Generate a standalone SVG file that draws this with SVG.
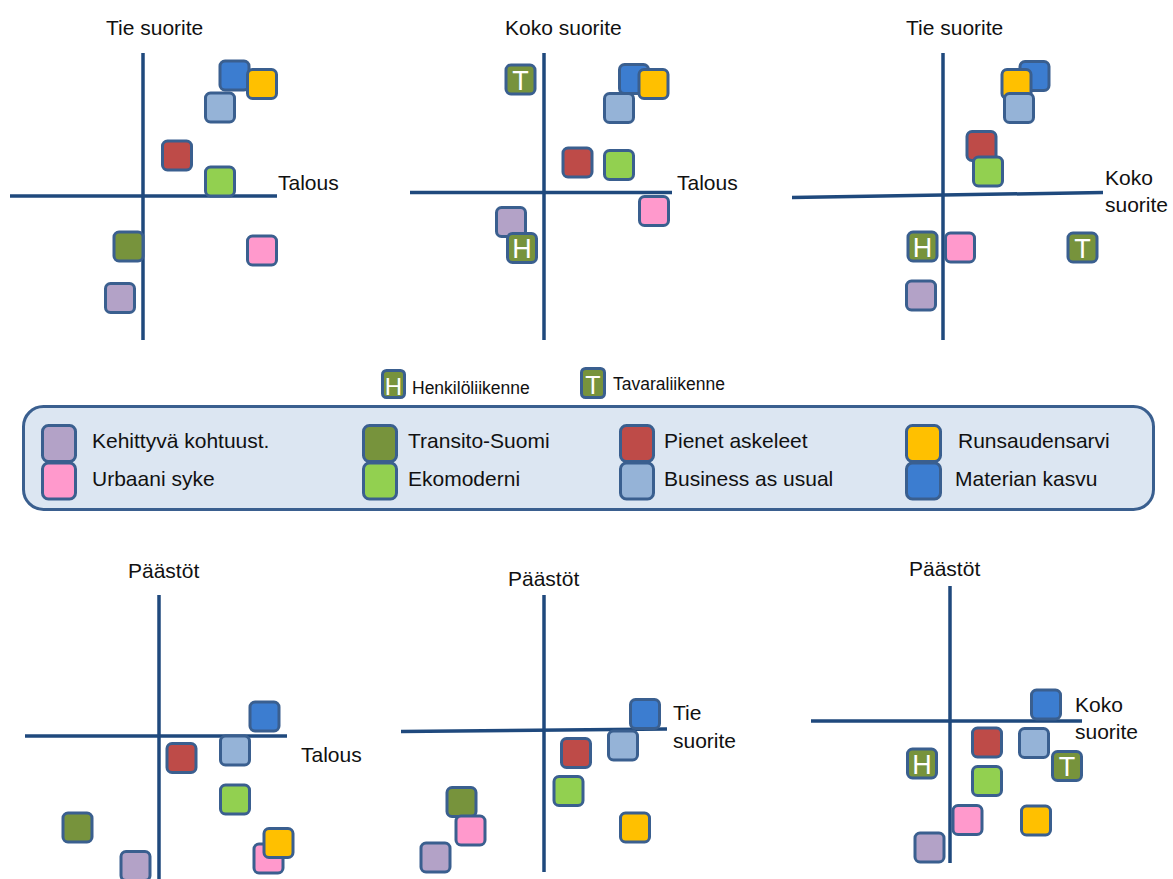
<svg xmlns="http://www.w3.org/2000/svg" width="1173" height="879" viewBox="0 0 1173 879">
  <style>
    text { font-family: "Liberation Sans", Arial, sans-serif; fill: #111; }
    .title { font-size: 21px; }
    .lbl { font-size: 21px; }
    .leg { font-size: 21px; }
    .small { font-size: 17.5px; }
    .axis { stroke: #1F497D; stroke-width: 3.5; fill: none; }
    .m { stroke: #3A5F8F; stroke-width: 3; }
    .letter { fill: #fff; font-size: 27px; text-anchor: middle; }
    .pur { fill: #B3A2C7; }
    .pnk { fill: #FF99CC; }
    .olv { fill: #77933C; }
    .grn { fill: #92D050; }
    .red { fill: #BE4B48; }
    .lbl-b { fill: #95B3D7; }
    .yel { fill: #FFC000; }
    .blu { fill: #3C7DD0; }
  </style>
  <defs>
    <rect id="sq" width="29" height="29" rx="5" ry="5"/>
  </defs>

  <!-- Chart 1: Tie suorite vs Talous -->
  <g id="chart1">
    <line class="axis" x1="143" y1="53" x2="143" y2="340"/>
    <line class="axis" x1="10" y1="196" x2="277" y2="196"/>
    <text class="title" x="106" y="35">Tie suorite</text>
    <text class="lbl" x="278" y="190">Talous</text>
    <g id="c1-materian"><use href="#sq" class="m blu" x="220" y="61"/></g>
    <g id="c1-runsaus"><use href="#sq" class="m yel" x="247.5" y="69.5"/></g>
    <g id="c1-business"><use href="#sq" class="m lbl-b" x="205.5" y="93"/></g>
    <g id="c1-pienet"><use href="#sq" class="m red" x="162.5" y="141"/></g>
    <g id="c1-eko"><use href="#sq" class="m grn" x="205.5" y="167"/></g>
    <g id="c1-transito"><use href="#sq" class="m olv" x="114" y="232"/></g>
    <g id="c1-urbaani"><use href="#sq" class="m pnk" x="247.5" y="236"/></g>
    <g id="c1-kehittyva"><use href="#sq" class="m pur" x="105.5" y="283.5"/></g>
  </g>

  <!-- Chart 2: Koko suorite vs Talous -->
  <g id="chart2">
    <line class="axis" x1="544" y1="53" x2="544" y2="340"/>
    <line class="axis" x1="410" y1="192.5" x2="672" y2="192.5"/>
    <text class="title" x="505" y="35">Koko suorite</text>
    <text class="lbl" x="677" y="190">Talous</text>
    <g id="c2-transito-t"><use href="#sq" class="m olv" x="506" y="65"/><text class="letter" x="520.5" y="90">T</text></g>
    <g id="c2-materian"><use href="#sq" class="m blu" x="619.5" y="64.5"/></g>
    <g id="c2-runsaus"><use href="#sq" class="m yel" x="639" y="69.5"/></g>
    <g id="c2-business"><use href="#sq" class="m lbl-b" x="604.5" y="93.5"/></g>
    <g id="c2-pienet"><use href="#sq" class="m red" x="563" y="148"/></g>
    <g id="c2-eko"><use href="#sq" class="m grn" x="604.5" y="150.5"/></g>
    <g id="c2-urbaani"><use href="#sq" class="m pnk" x="639.5" y="196.5"/></g>
    <g id="c2-kehittyva"><use href="#sq" class="m pur" x="496.5" y="207.5"/></g>
    <g id="c2-transito-h"><use href="#sq" class="m olv" x="507.5" y="233.5"/><text class="letter" x="522" y="258">H</text></g>
  </g>

  <!-- Chart 3: Tie suorite vs Koko suorite -->
  <g id="chart3">
    <line class="axis" x1="943" y1="53" x2="943" y2="340"/>
    <line class="axis" x1="792" y1="197.5" x2="1103" y2="192.5"/>
    <text class="title" x="906" y="35">Tie suorite</text>
    <text class="lbl" x="1105" y="185">Koko</text>
    <text class="lbl" x="1105" y="212">suorite</text>
    <g id="c3-materian"><use href="#sq" class="m blu" x="1020" y="61.5"/></g>
    <g id="c3-runsaus"><use href="#sq" class="m yel" x="1002" y="69.5"/></g>
    <g id="c3-business"><use href="#sq" class="m lbl-b" x="1004.5" y="93.5"/></g>
    <g id="c3-pienet"><use href="#sq" class="m red" x="967" y="131.5"/></g>
    <g id="c3-eko"><use href="#sq" class="m grn" x="973.5" y="157"/></g>
    <g id="c3-transito-h"><use href="#sq" class="m olv" x="908" y="232"/><text class="letter" x="922.5" y="256.5">H</text></g>
    <g id="c3-urbaani"><use href="#sq" class="m pnk" x="945.5" y="233"/></g>
    <g id="c3-transito-t"><use href="#sq" class="m olv" x="1068" y="233"/><text class="letter" x="1082.5" y="257.5">T</text></g>
    <g id="c3-kehittyva"><use href="#sq" class="m pur" x="906.5" y="281"/></g>
  </g>

  <!-- Legend -->
  <g id="legend-traffic">
    <rect class="m olv" x="382.5" y="370.5" width="22" height="27" rx="4"/>
    <text x="393.5" y="395" style="fill:#fff;font-size:24px;text-anchor:middle">H</text>
    <text class="small" x="412" y="394">Henkilöliikenne</text>
    <rect class="m olv" x="581.5" y="368.5" width="23" height="29" rx="4"/>
    <text x="593" y="394" style="fill:#fff;font-size:25px;text-anchor:middle">T</text>
    <text class="small" x="613" y="390">Tavaraliikenne</text>
  </g>
  <g id="legend">
    <rect x="23.5" y="406.5" width="1130" height="103" rx="20" ry="20" fill="#DCE6F2" stroke="#3A5F8F" stroke-width="3"/>
    <rect class="m pur" x="42.5" y="425.5" width="33" height="36" rx="6"/>
    <rect class="m pnk" x="42.5" y="463" width="33" height="36" rx="6"/>
    <text class="leg" x="92" y="448">Kehittyvä kohtuust.</text>
    <text class="leg" x="92" y="486">Urbaani syke</text>
    <rect class="m olv" x="363.5" y="425.5" width="33" height="36" rx="6"/>
    <rect class="m grn" x="363.5" y="463" width="33" height="36" rx="6"/>
    <text class="leg" x="408" y="448">Transito-Suomi</text>
    <text class="leg" x="408" y="486">Ekomoderni</text>
    <rect class="m red" x="620.5" y="425.5" width="33" height="36" rx="6"/>
    <rect class="m lbl-b" x="620.5" y="463" width="33" height="36" rx="6"/>
    <text class="leg" x="664" y="448">Pienet askeleet</text>
    <text class="leg" x="664" y="486">Business as usual</text>
    <rect class="m yel" x="906.5" y="425.5" width="34" height="36" rx="6"/>
    <rect class="m blu" x="906.5" y="463" width="34" height="36" rx="6"/>
    <text class="leg" x="958" y="448">Runsaudensarvi</text>
    <text class="leg" x="955" y="486">Materian kasvu</text>
  </g>

  <!-- Chart 4: Päästöt vs Talous -->
  <g id="chart4">
    <line class="axis" x1="159" y1="595" x2="159" y2="879"/>
    <line class="axis" x1="25" y1="736" x2="287" y2="736"/>
    <text class="title" x="128" y="578">Päästöt</text>
    <text class="lbl" x="301" y="762">Talous</text>
    <g id="c4-materian"><use href="#sq" class="m blu" x="250" y="702"/></g>
    <g id="c4-business"><use href="#sq" class="m lbl-b" x="220.5" y="736"/></g>
    <g id="c4-pienet"><use href="#sq" class="m red" x="167" y="743.5"/></g>
    <g id="c4-eko"><use href="#sq" class="m grn" x="220.5" y="785"/></g>
    <g id="c4-transito"><use href="#sq" class="m olv" x="63" y="813"/></g>
    <g id="c4-kehittyva"><use href="#sq" class="m pur" x="121" y="851.5"/></g>
    <g id="c4-urbaani"><use href="#sq" class="m pnk" x="254" y="844"/></g>
    <g id="c4-runsaus"><use href="#sq" class="m yel" x="264" y="828.5"/></g>
  </g>

  <!-- Chart 5: Päästöt vs Tie suorite -->
  <g id="chart5">
    <line class="axis" x1="544" y1="595" x2="544" y2="872"/>
    <line class="axis" x1="401" y1="731.5" x2="667" y2="729"/>
    <text class="title" x="508" y="586">Päästöt</text>
    <text class="lbl" x="673" y="720">Tie</text>
    <text class="lbl" x="673" y="748">suorite</text>
    <g id="c5-materian"><use href="#sq" class="m blu" x="630.5" y="699.5"/></g>
    <g id="c5-business"><use href="#sq" class="m lbl-b" x="608.5" y="731"/></g>
    <g id="c5-pienet"><use href="#sq" class="m red" x="561.5" y="738.5"/></g>
    <g id="c5-eko"><use href="#sq" class="m grn" x="554" y="776.5"/></g>
    <g id="c5-runsaus"><use href="#sq" class="m yel" x="620.5" y="813"/></g>
    <g id="c5-transito"><use href="#sq" class="m olv" x="447" y="787.5"/></g>
    <g id="c5-urbaani"><use href="#sq" class="m pnk" x="456" y="816"/></g>
    <g id="c5-kehittyva"><use href="#sq" class="m pur" x="421" y="843"/></g>
  </g>

  <!-- Chart 6: Päästöt vs Koko suorite -->
  <g id="chart6">
    <line class="axis" x1="950" y1="586" x2="950" y2="863"/>
    <line class="axis" x1="811" y1="721" x2="1082" y2="721"/>
    <text class="title" x="909" y="576">Päästöt</text>
    <text class="lbl" x="1075" y="712">Koko</text>
    <text class="lbl" x="1075" y="739">suorite</text>
    <g id="c6-materian"><use href="#sq" class="m blu" x="1031.5" y="690"/></g>
    <g id="c6-pienet"><use href="#sq" class="m red" x="972.5" y="728"/></g>
    <g id="c6-business"><use href="#sq" class="m lbl-b" x="1019.5" y="728.5"/></g>
    <g id="c6-transito-t"><use href="#sq" class="m olv" x="1052.5" y="751.5"/><text class="letter" x="1067" y="776">T</text></g>
    <g id="c6-transito-h"><use href="#sq" class="m olv" x="907.5" y="749"/><text class="letter" x="922" y="773.5">H</text></g>
    <g id="c6-eko"><use href="#sq" class="m grn" x="972.5" y="766.5"/></g>
    <g id="c6-urbaani"><use href="#sq" class="m pnk" x="953" y="805.5"/></g>
    <g id="c6-runsaus"><use href="#sq" class="m yel" x="1021.5" y="806"/></g>
    <g id="c6-kehittyva"><use href="#sq" class="m pur" x="915" y="833"/></g>
  </g>
</svg>
